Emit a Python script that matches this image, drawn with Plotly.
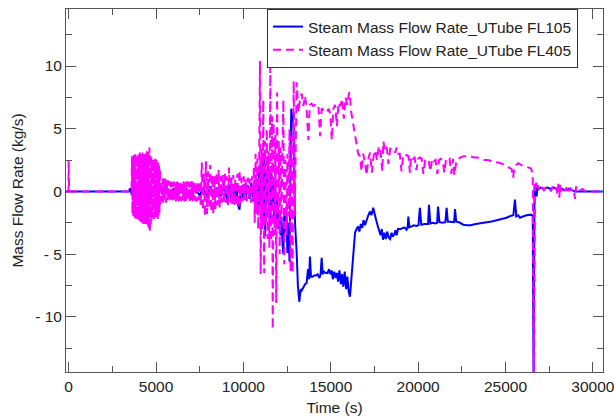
import plotly.graph_objects as go

# ---------------- data ----------------
series_names = ["Steam Mass Flow Rate_UTube FL105", "Steam Mass Flow Rate_UTube FL405"]

# FL105 (blue, solid)
t_fl105 = [
    -150, 0, 3450, 3520, 3570,
    3620, 3700, 3800, 3900, 4000, 4100, 4200, 4300, 4400, 4500, 4600, 4700, 4800, 4900, 5000,
    5200, 5400, 5600, 5800, 6000, 6300, 6600, 6900, 7200, 7500, 7700, 7900, 8100, 8300, 8500,
    8700, 8900,
    9000, 9100, 9200, 9300, 9400, 9500, 9600, 9700, 9780, 9850, 9950, 10050, 10150, 10250,
    10350, 10450, 10550, 10650, 10750,
    10800, 10850, 10900, 10950, 11000, 11050, 11100, 11150, 11200, 11250, 11300, 11350, 11400,
    11450, 11500, 11550, 11600, 11650, 11700, 11760, 11820, 11880, 11940, 12000, 12060, 12120,
    12180, 12240, 12290, 12340, 12400, 12460, 12520, 12580, 12640, 12700, 12740, 12790, 12860,
    12920, 12960, 13050, 13120, 13200, 13280, 13340, 13430, 13530, 13620, 13700, 13760, 13810,
    13870, 13950, 14050, 14150, 14250, 14350, 14420, 14480, 14540, 14620, 14720, 14820, 14900,
    14980, 15050, 15120, 15200, 15280, 15350, 15420, 15500, 15580, 15650, 15720, 15800, 15880,
    15950, 16030, 16100, 16180, 16250, 16290, 16390, 16480, 16560, 16640, 16720, 16800, 16880,
    16960, 17060, 17150, 17250, 17330, 17430, 17520, 17600, 17700, 17780, 17850, 17920, 17990,
    18070, 18150, 18230, 18320, 18400, 18480, 18560, 18640, 18700, 18770, 18850, 19000, 19150,
    19250, 19340, 19400, 19440, 19500, 19600, 19750, 19900, 20020, 20100, 20180, 20350, 20500,
    20570, 20620, 20700, 20850, 21000, 21090, 21140, 21220, 21400, 21560, 21630, 21700, 21850,
    22000, 22060, 22110, 22180, 22400, 22580, 22800, 23000, 23300, 23600, 23900, 24200, 24500,
    24800, 25060, 25300, 25450, 25540, 25620, 25730, 25830, 26000, 26200, 26490, 26560, 26610,
    26660, 26720, 26780, 26830, 26900, 27000, 27200, 27400, 27600, 27800, 28000, 28200, 28400,
    28600, 28800, 29000, 30600,
]
v_fl105 = [
    0, 0, 0, 0.25, 0,
    -0.3, 0.4, -0.3, 0.4, -0.4, 0.4, -0.4, 0.3, -0.4, 0.4, -0.3, 0.3, -0.3, 0.3, -0.3,
    0.3, -0.3, 0.3, -0.2, 0.2, -0.2, 0.2, -0.2, 0.2, -0.3, 0.3, -0.4, 0.4, -0.3, 0.3,
    -0.4, 0.4,
    -0.4, -0.9, 0.5, -0.5, 0.6, -0.6, 0.4, -1.1, -1.45, 0.3, -0.5, 0.6, -0.4, 0.5,
    -0.6, 0.7, -0.8, 0.9, -1.5,
    1.0, -1.0, 1.5, -1.2, 2.0, -1.5, 3.1, -2.0, 2.8, -3.6, 1.5, -1.0, 2.0,
    -1.8, 1.0, -2.5, 1.5, -1.5, 0.5, -2.0, 0.4, -2.8, -0.5, -3.0, -1.5, -3.5,
    -2.0, -4.2, -5.0, -1.8, -3.2, -1.2, -4.9, -2.5, -5.6, 2.0, 6.6, 6.0, 5.4,
    0.5, -2.65, -4.9, -7.5, -8.8, -7.8, -7.9, -7.6, -7.4, -7.3, -6.2, -7.0, -5.2,
    -6.8, -6.8, -6.7, -6.7, -6.6, -6.9, -6.6, -5.3, -6.6, -6.4, -6.5, -6.5, -6.2,
    -6.6, -6.3, -7.0, -6.4, -6.9, -6.5, -7.2, -6.3, -7.4, -6.6, -7.6, -6.4, -7.8,
    -6.8, -8.0, -8.4, -7.0, -5.5, -4.9, -3.3, -3.0, -2.8, -3.2, -2.6, -2.9, -2.3,
    -2.7, -2.25, -1.9, -1.6, -1.9, -1.3, -2.0, -2.3, -2.8, -3.1, -3.5, -3.0, -3.85,
    -3.3, -3.8, -3.2, -3.7, -3.8, -3.3, -3.6, -3.4, -3.1, -3.5, -3.0, -3.0, -2.9,
    -2.9, -3.05, -2.9, -2.0, -2.85, -2.8, -2.7, -2.75, -2.7, -1.3, -2.65, -2.6, -2.6,
    -2.6, -1.06, -2.55, -2.5, -2.55, -2.5, -1.2, -2.45, -2.5, -2.45, -1.3, -2.4, -2.4,
    -2.4, -2.45, -1.4, -2.4, -2.5, -2.65, -2.7, -2.7, -2.6, -2.55, -2.5, -2.4, -2.3,
    -2.2, -2.1, -1.95, -1.9, -0.65, -2.0, -1.9, -2.1, -2.0, -1.9, -1.85, -2.0, -16.0,
    0.5, 0.1, -0.4, 0.4, 0.2, 0.3, 0.2, 0.3, 0.2, 0.3, 0.1, 0.2, 0.1,
    0.2, 0.1, 0.0, 0.0,
]

# FL405 (magenta, dashed)
t_fl405 = [
    -150, -10, 0, 30, 3550,
    3600, 3625, 3650, 3675, 3700, 3725, 3750, 3775, 3800, 3825, 3850, 3875, 3900, 3925, 3950,
    3975, 4000, 4025, 4050, 4075, 4100, 4125, 4150, 4175, 4200, 4225, 4250, 4275, 4300, 4325,
    4350, 4375, 4400, 4425, 4450, 4475, 4500, 4525, 4550, 4575, 4600, 4625, 4650, 4675, 4700,
    4725, 4750, 4775, 4800, 4825, 4850, 4875, 4900, 4925, 4950, 4975, 5000, 5025, 5050, 5075,
    5100, 5125, 5150, 5175, 5200, 5225, 5250,
    5300, 5340, 5380, 5420, 5460, 5500, 5540, 5580, 5620, 5660, 5700, 5740, 5780, 5820, 5860,
    5900, 5940, 5980, 6020, 6060, 6100, 6140, 6180, 6220, 6260, 6300, 6340, 6380, 6420, 6460,
    6500, 6540, 6580, 6620, 6660, 6700, 6740, 6780, 6820, 6860, 6900, 6940, 6980, 7020, 7060,
    7100, 7140, 7180, 7220, 7260, 7300, 7340, 7380, 7420, 7460,
    7500, 7560, 7620, 7680, 7740, 7800, 7860, 7920, 7980, 8040, 8100, 8160, 8220, 8280, 8340,
    8400, 8460, 8520, 8580, 8640, 8700, 8760, 8820, 8880, 8940, 9000, 9060, 9120, 9180, 9240,
    9300, 9360, 9420, 9480, 9540, 9600, 9660, 9720, 9780, 9840, 9900, 9960, 10020, 10080,
    10140, 10200, 10260, 10320, 10380, 10440, 10500, 10560,
    10600, 10650, 10700, 10750, 10800, 10850, 10900, 10950, 10990, 11040, 11090, 11140, 11190,
    11240, 11290, 11340, 11390, 11440, 11490, 11540, 11590, 11640, 11680, 11730, 11780, 11830,
    11880, 11930, 11980, 12030, 12080, 12130, 12180, 12240, 12290, 12340, 12400, 12460, 12520,
    12580, 12640, 12700, 12760, 12820, 12880, 12940, 13000,
    13050, 13150, 13250, 13340, 13430, 13530, 13620, 13720, 13800, 13900, 14000, 14100, 14200,
    14300, 14390, 14480, 14580, 14680, 14780, 14880, 14970, 15060, 15150, 15250, 15350, 15450,
    15550, 15650, 15750, 15850, 15950, 16050, 16100, 16150,
    16290, 16390, 16480, 16570, 16670, 16760, 16850, 16950, 17050, 17150, 17250, 17350, 17450,
    17550, 17650, 17750, 17850, 17950, 18010, 18100, 18200, 18300, 18400, 18500, 18600, 18700,
    18770, 18850, 18950, 19050, 19150, 19250, 19350, 19450, 19530, 19600, 19700, 19800, 19900,
    20000, 20100, 20200, 20300, 20400, 20500, 20600, 20700, 20800, 20900, 21000, 21100, 21200,
    21300, 21400, 21500, 21600, 21700, 21800, 21900, 22000, 22070, 22200, 22400, 22600, 22800,
    23000, 23200, 23400, 23600, 23800, 24000, 24200, 24400, 24600, 24800, 25000, 25200, 25350,
    25440, 25500, 25600, 25730, 25900, 26100, 26300, 26450, 26560, 26620,
    26690, 26720, 26760, 26800, 26850, 26900, 26950, 27000, 27100, 27200, 27300, 27400, 27500,
    27600, 27700, 27800, 27900, 27980, 28030, 28080, 28130, 28200, 28300, 28400, 28500, 28600,
    28700, 28800, 28900, 28980, 29040, 29100, 29200, 29300, 29400, 29500, 29600, 30600,
]
v_fl405 = [
    0, 0, 2.5, 0, 0,
    0, 2.8, -1.8, 2.6, -2.0, 2.9, -1.9, 2.7, -2.1, 3.0, -2.2, 2.8, -2.3, 2.9, -2.2,
    3.0, -2.4, 2.9, -2.3, 3.1, -2.4, 2.8, -2.5, 3.0, -2.4, 3.1, -2.6, 2.9, -2.5, 3.1,
    -2.6, 2.9, -2.5, 3.0, -2.7, 3.2, -2.6, 3.0, -2.8, 3.3, -3.0, 3.5, -3.3, 3.0, -2.6,
    2.7, -2.3, 2.6, -2.1, 2.5, -2.0, 2.6, -2.2, 2.4, -2.0, 2.6, -2.1, 2.5, -1.9, 2.4,
    -2.2, 2.3, -2.0, 2.2, -1.7, 1.8, -1.2,
    0.9, -0.8, 1.0, -0.9, 1.1, -0.8, 1.0, -0.9, 0.9, -0.8, 0.9, -0.7, 0.8, -0.8, 0.8,
    -0.7, 0.7, -0.8, 0.8, -0.7, 0.7, -0.8, 0.8, -0.7, 0.8, -0.8, 0.7, -0.7, 0.8, -0.8,
    0.7, -0.7, 0.8, -0.8, 0.7, -0.8, 0.8, -0.7, 0.8, -0.7, 0.7, -0.8, 0.8, -0.7, 0.8,
    -0.8, 0.7, -0.7, 0.8, -0.8, 0.7, -0.8, 0.8, -0.7, 0.8,
    0.8, -1.2, 2.3, -1.5, 1.4, -2.0, 2.4, -1.8, 1.6, -1.2, 2.1, -1.6, 1.3, -1.8, 1.2,
    -1.4, 1.5, -1.1, 1.7, -1.3, 1.2, -0.9, 1.3, -1.0, 1.4, -0.9, 1.2, -1.1, 1.9, -0.9,
    1.1, -1.0, 1.3, -1.1, 1.0, -1.2, 1.4, -1.3, 1.7, -1.0, 1.1, -0.8, 1.2, -0.7,
    1.0, -0.8, 1.1, -0.6, 1.0, -0.9, 1.2, -0.7,
    2.0, -2.5, 3.0, -1.8, 2.6, -3.0, 1.5, 10.4, -6.6, 3.5, -3.0, 7.3, -6.5,
    4.0, -2.5, 5.0, -3.8, 3.2, -4.5, 10.4, -4.0, 6.0, -11.0, 5.5, -3.5, 4.5,
    -8.9, 7.9, -3.0, 4.0, -5.0, 3.5, -2.5, 4.0, 7.3, -5.8, 2.5, -3.5, 3.0,
    -2.0, 5.0, -6.4, 4.4, -6.5, 8.8, -2.0, 6.0,
    8.7, 6.3, 7.5, 7.8, 6.8, 7.6, 6.6, 4.1, 6.9, 7.0, 6.8, 6.9, 6.6,
    6.7, 4.4, 6.6, 6.5, 6.4, 6.3, 6.6, 6.2, 4.1, 6.6, 6.9, 5.2, 7.1,
    6.8, 7.4, 5.8, 7.5, 6.9, 7.9, 7.8, 6.5,
    5.2, 4.4, 3.5, 3.0, 2.8, 1.6, 3.0, 2.4, 1.3, 2.6, 3.1, 1.5, 2.8,
    3.3, 2.5, 3.6, 3.2, 1.6, 4.0, 3.3, 3.6, 2.2, 3.4, 3.5, 3.3, 3.1,
    3.5, 3.0, 3.0, 1.6, 2.9, 2.8, 2.9, 2.8, 1.5, 2.8, 2.6, 2.7, 1.7,
    2.6, 2.7, 2.6, 1.4, 2.5, 2.6, 2.5, 1.6, 2.6, 2.4, 2.5, 1.4, 2.5,
    2.6, 2.5, 1.5, 2.6, 2.5, 2.6, 1.4, 2.6, 1.3, 2.5, 2.7, 2.8, 2.8,
    2.8, 2.7, 2.7, 2.6, 2.5, 2.5, 2.4, 2.3, 2.3, 2.2, 2.1, 1.9, 1.8,
    1.1, 1.9, 2.1, 2.25, 2.1, 2.0, 1.9, 1.85, 1.4, -16.0,
    0.6, 0.3, 0.7, 0.2, 0.5, 0.1, 0.4, 0.2, 0.3, 0.1, 0.3, 0.2, 0.3,
    0.0, 0.4, 0.1, 0.3, -0.3, 0.8, -0.5, 0.5, 0.0, 0.3, 0.1, 0.3, -0.2,
    0.3, 0.1, 0.2, -0.6, 0.4, 0.1, 0.2, 0.1, 0.2, 0.1, 0.0, 0.0,
]

x_tick_vals = [0, 5000, 10000, 15000, 20000, 25000, 30000]
x_tick_text = ["0", "5000", "10000", "15000", "20000", "25000", "30000"]
y_tick_vals = [-10, -5, 0, 5, 10]
y_tick_text = ["- 10", "- 5", "0", "5", "10"]
x_title = "Time (s)"
y_title = "Mass Flow Rate (kg/s)"

# ---------------- figure ----------------
FONT = "Liberation Sans, Arial, sans-serif"
fig = go.Figure()
fig.add_trace(go.Scatter(
    x=t_fl105, y=v_fl105, mode="lines", name=series_names[0],
    line=dict(color="#0000ff", width=2),
))
fig.add_trace(go.Scatter(
    x=t_fl405, y=v_fl405, mode="lines", name=series_names[1],
    line=dict(color="#ff00ff", width=2, dash="8px,5px"),
))

axis_common = dict(
    showgrid=False, zeroline=False, showline=True, linecolor="#555555", linewidth=1,
    ticks="inside", ticklen=10, tickcolor="#555555", mirror="allticks",
    tickfont=dict(family=FONT, size=15.5, color="#222222"),
    automargin=False,
)
fig.update_xaxes(
    range=[-150, 30580], tickmode="array", tickvals=x_tick_vals, ticktext=x_tick_text,
    minor=dict(dtick=2500, ticks="inside", ticklen=6, tickcolor="#555555", showgrid=False),
    title=dict(text=x_title, font=dict(family=FONT, size=15.5, color="#222222"), standoff=8),
    ticklabeloverflow="allow",
    **axis_common,
)
fig.update_yaxes(
    range=[-14.4, 14.55], tickmode="array", tickvals=y_tick_vals, ticktext=y_tick_text,
    minor=dict(dtick=2.5, ticks="inside", ticklen=6, tickcolor="#555555", showgrid=False),
    title=dict(text=y_title, font=dict(family=FONT, size=15.5, color="#222222"), standoff=7),
    **axis_common,
)
fig.update_layout(
    width=614, height=419,
    margin=dict(l=66, r=11, t=9, b=47),
    plot_bgcolor="white", paper_bgcolor="white",
    font=dict(family=FONT, size=15.5, color="#222222"),
    showlegend=True,
    legend=dict(
        x=0.9534, xanchor="right", y=1, yanchor="top",
        bgcolor="white", bordercolor="#333333", borderwidth=1,
        font=dict(family=FONT, size=15.5, color="#222222"),
        tracegroupgap=0,
    ),
)
fig.write_html(
    "out.html",
    config={"displayModeBar": False},
    post_script="document.body.style.margin='0';document.body.style.overflow='hidden';",
)
